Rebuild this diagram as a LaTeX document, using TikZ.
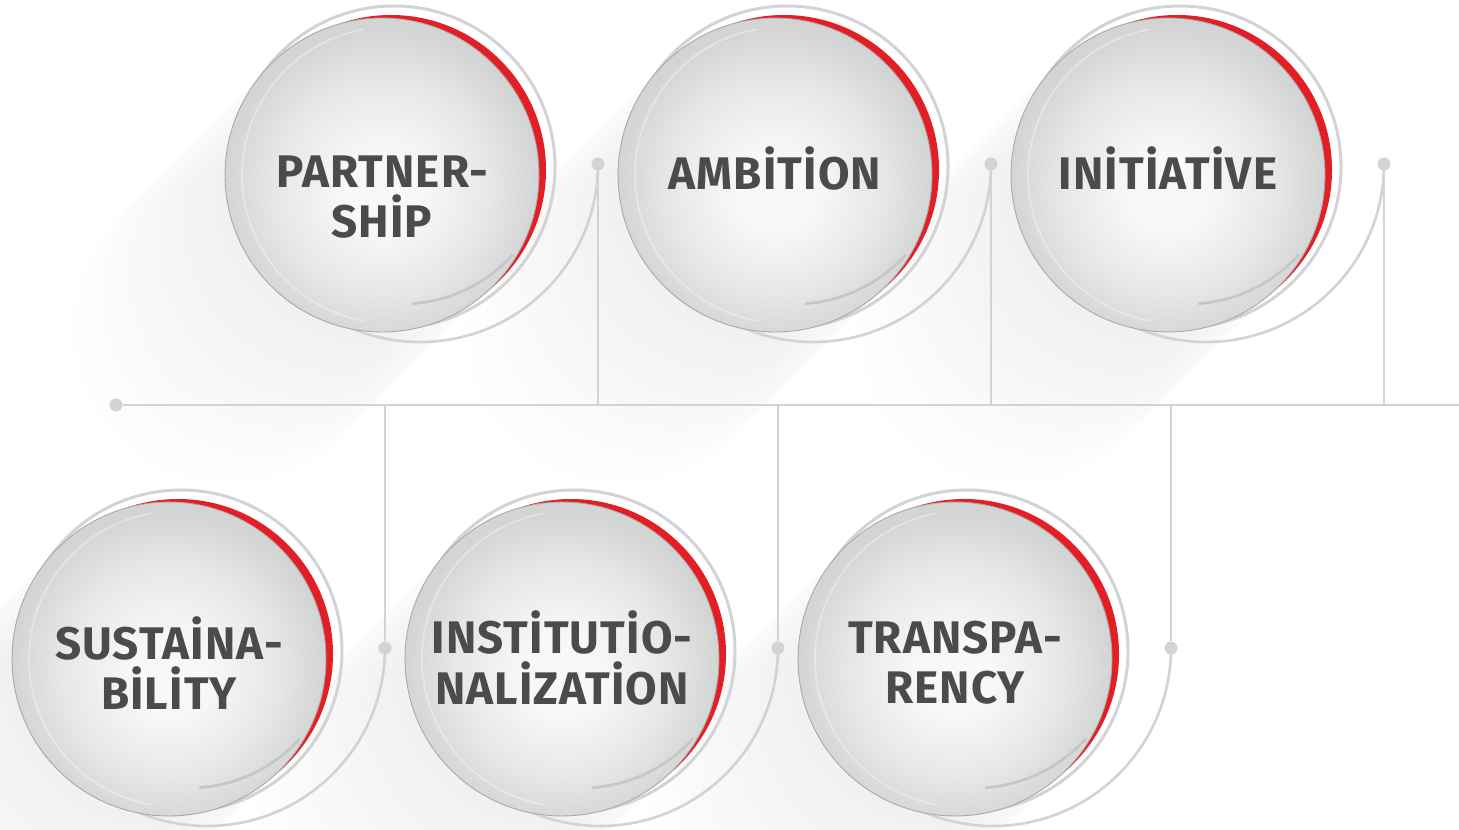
\documentclass[tikz,border=0pt]{standalone}
\usepackage{fontspec}
\setmainfont{Fira Sans}[LetterSpace=2.5]
\definecolor{ringred}{HTML}{E31E24}
\definecolor{wiregray}{HTML}{D2D3D5}
\definecolor{inkgray}{HTML}{4A4B4D}
\definecolor{ballhi}{HTML}{F8F8F8}
\definecolor{ballmid}{HTML}{E6E7E7}
\definecolor{ballrim}{HTML}{D3D4D4}
\definecolor{balledge}{HTML}{A7A8A9}
\pgfdeclareradialshading{ballshade}{\pgfpoint{0bp}{-3bp}}{color(0bp)=(ballhi); color(6bp)=(ballhi); color(17bp)=(ballmid); color(25bp)=(ballrim); color(50bp)=(ballrim)}
\begin{document}
\begin{tikzpicture}[x=0.02cm, y=0.02cm,
    wire/.style={wiregray, line width=1.5pt},
    dot/.style={circle, fill=wiregray, inner sep=0pt, minimum size=0.26cm},
    ball/.style={circle, shading=ballshade, draw=balledge, line width=0.5pt, inner sep=0pt, minimum size=6.28cm},
    word/.style={align=center, text=inkgray, font=\fontsize{26}{28.5}\selectfont\bfseries}]
      \useasboundingbox[fill=white] (0,0) rectangle (1459,829);

      \foreach \x/\y/\n in {598/665/1,991/665/2,1384/665/3,385/181/4,778/181/5,1171/181/6} {
        \coordinate (c\n) at (\x-216,\y-11);
        \foreach \k in {1,...,14}
          \fill[black, opacity=0.0035] ([shift={(-\k*11,-\k*11)}]c\n) circle[radius=157];
      }

      \node[dot] (start) at (116,424) {};
      \coordinate (finish) at (1459,424);
      \draw[wire] (start) -- (finish);

      \foreach \x/\y/\n in {598/665/1,991/665/2,1384/665/3,385/181/4,778/181/5,1171/181/6} {
        \node[dot] (d\n) at (\x,\y) {};
        \coordinate (s\n) at (\x,424);
        \draw[wire] (d\n) -- (s\n);
      }

      \foreach \n/\dy/\txt in {1/-22/{PARTNER-\\SHİP},2/7/{AMBİTİON},3/7/{INİTİATİVE},
          4/-4/{SUSTAİNA-\\BİLİTY},5/1/{INSTİTUTİO-\\NALİZATİON},6/-4/{TRANSPA-\\RENCY}} {
        \draw[wire] (d\n.center) arc[start angle=0, end angle=-122, radius=178];
        \draw[wire, line width=1.7pt] ([shift={(12,8)}]c\n) circle[radius=161];
        \fill[ringred] ([shift={(9,5)}]c\n) circle[radius=155];
        \node[ball] (b\n) at (c\n) {};
        \draw[wiregray!85!gray, line width=1.5pt] ([shift={(20,20)}]c\n) ++(-86:149)
          arc[start angle=-86, end angle=-42, radius=149];
        \draw[white, opacity=0.35, line width=1pt] ([shift={(8,0)}]c\n) ++(100:148)
          arc[start angle=100, end angle=260, radius=148];
        \node[word] (w\n) at ([shift={(0,\dy)}]c\n) {\txt};
      }
    \end{tikzpicture}
\end{document}
